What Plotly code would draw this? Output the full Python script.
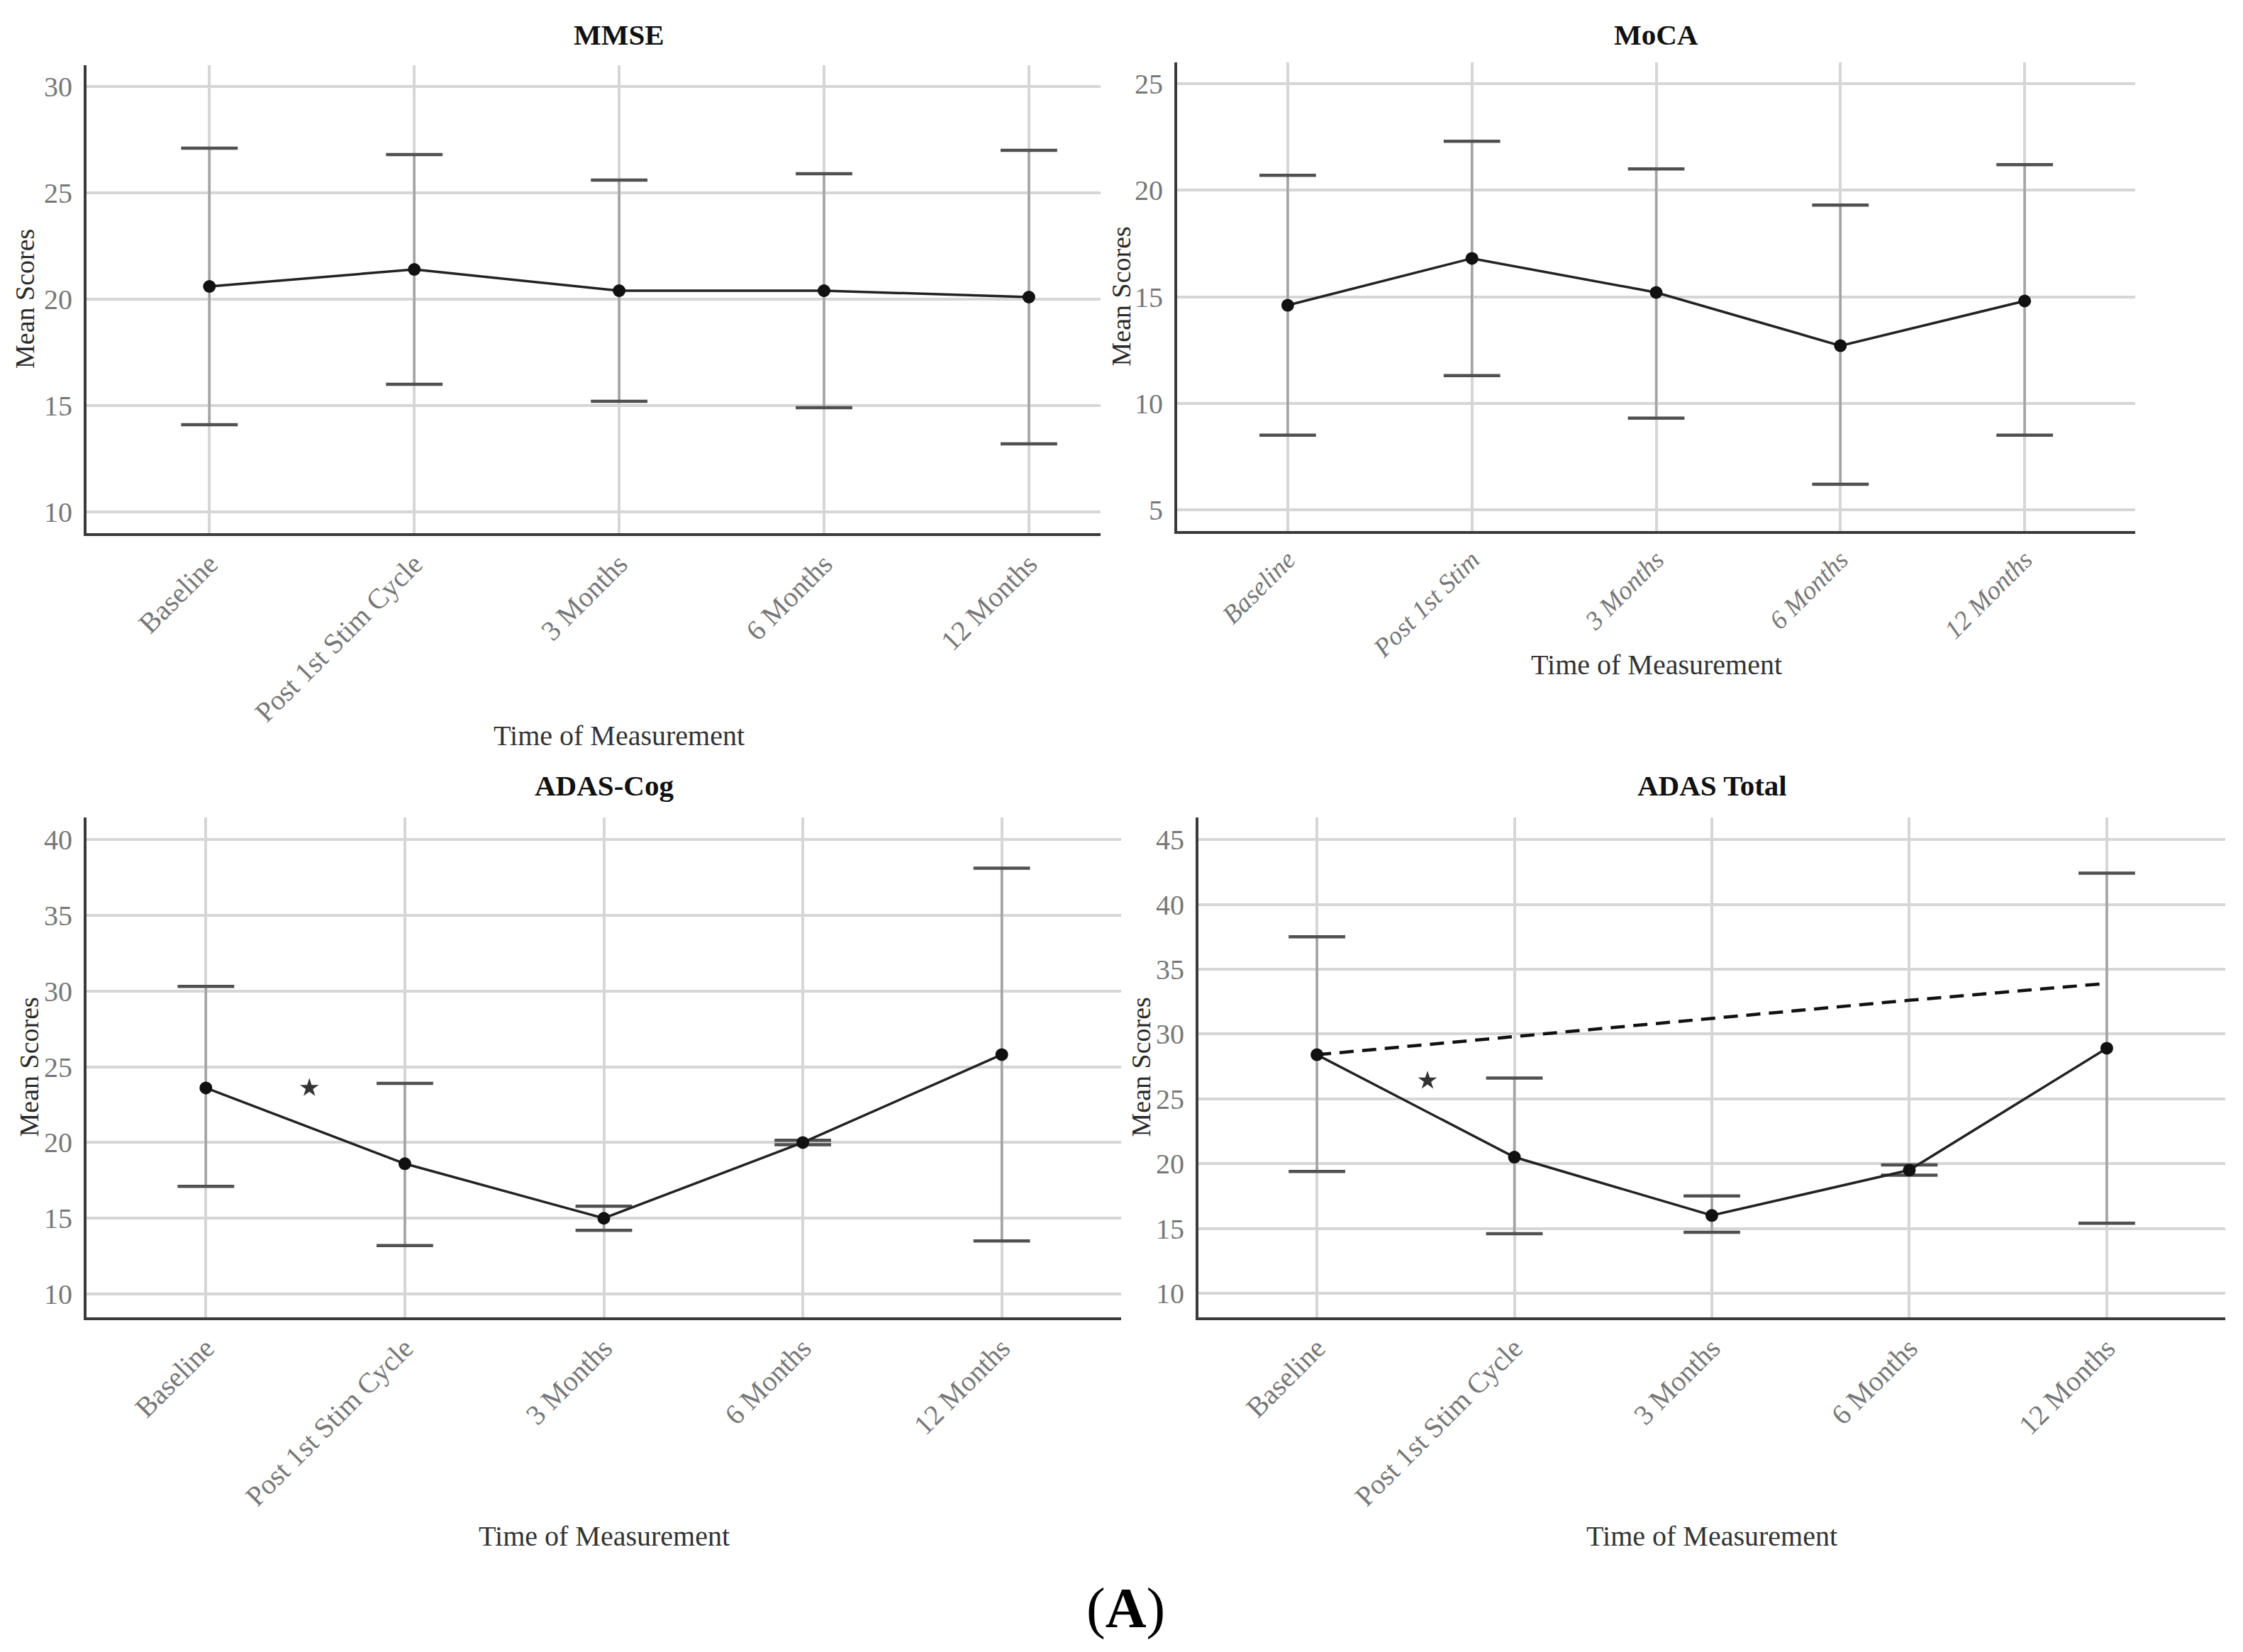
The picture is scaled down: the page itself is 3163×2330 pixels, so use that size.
import plotly.graph_objects as go

# ---------------- data ----------------
cats_long = ["Baseline", "Post 1st Stim Cycle", "3 Months", "6 Months", "12 Months"]
cats_moca = ["Baseline", "Post 1st Stim", "3 Months", "6 Months", "12 Months"]

mmse_mean = [20.6, 21.4, 20.4, 20.4, 20.1]
mmse_lower = [14.1, 16.0, 15.2, 14.9, 13.2]
mmse_upper = [27.1, 26.8, 25.6, 25.9, 27.0]

moca_mean = [14.6, 16.8, 15.2, 12.7, 14.8]
moca_lower = [8.5, 11.3, 9.3, 6.2, 8.5]
moca_upper = [20.7, 22.3, 21.0, 19.3, 21.2]

adascog_mean = [23.6, 18.6, 15.0, 20.0, 25.8]
adascog_lower = [17.1, 13.2, 14.2, 19.85, 13.5]
adascog_upper = [30.3, 23.9, 15.8, 20.15, 38.1]

adastot_mean = [28.4, 20.5, 16.0, 19.5, 28.9]
adastot_lower = [19.4, 14.6, 14.7, 19.1, 15.4]
adastot_upper = [37.5, 26.6, 17.5, 19.9, 42.4]
adastot_expected = [28.4, 29.8, 31.2, 32.6, 33.9]

# significance star positions (category index, score)
adascog_star = (0.52, 23.6)
adastot_star = (0.56, 26.4)

mmse_ticks = [10, 15, 20, 25, 30]
moca_ticks = [5, 10, 15, 20, 25]
adascog_ticks = [10, 15, 20, 25, 30, 35, 40]
adastot_ticks = [10, 15, 20, 25, 30, 35, 40, 45]

# ---------------- layout helpers ----------------
W, H = 3163, 2330
OFF = 8                      # page body margin
FW, FH = W - 2 * OFF, H - 2 * OFF
def px(x):
    return (x - OFF) / FW
def py(y):
    return 1 - (y - OFF) / FH

FONT = "Liberation Serif"
GRID = "#d6d6d6"
AXIS = "#3a3a3a"
TICKC = "#777777"

panels = [
    dict(title="MMSE", cats=cats_long, mean=mmse_mean, lo=mmse_lower, hi=mmse_upper,
         ticks=mmse_ticks, yr=[9, 31], xr=[-0.6, 4.35],
         xdom=(122, 1552), ydom=(92, 752), title_y=49, xt_y=1037, yt_x=35,
         italic=False, xfs=40),
    dict(title="MoCA", cats=cats_moca, mean=moca_mean, lo=moca_lower, hi=moca_upper,
         ticks=moca_ticks, yr=[4, 26], xr=[-0.6, 4.6],
         xdom=(1660, 3011), ydom=(88, 749), title_y=49, xt_y=937, yt_x=1580,
         italic=True, xfs=37),
    dict(title="ADAS-Cog", cats=cats_long, mean=adascog_mean, lo=adascog_lower, hi=adascog_upper,
         ticks=adascog_ticks, yr=[8.46, 41.45], xr=[-0.6, 4.6],
         xdom=(122, 1581), ydom=(1153, 1858), title_y=1108, xt_y=2166, yt_x=40,
         italic=False, xfs=40),
    dict(title="ADAS Total", cats=cats_long, mean=adastot_mean, lo=adastot_lower, hi=adastot_upper,
         ticks=adastot_ticks, yr=[8.14, 46.7], xr=[-0.6, 4.6],
         xdom=(1690, 3138), ydom=(1153, 1858), title_y=1108, xt_y=2166, yt_x=1608,
         italic=False, xfs=40),
]

fig = go.Figure()
annotations = []

for i, p in enumerate(panels, start=1):
    xa = "x" if i == 1 else f"x{i}"
    ya = "y" if i == 1 else f"y{i}"
    cats = p["cats"]
    plus = [h - m for h, m in zip(p["hi"], p["mean"])]
    minus = [m - l for m, l in zip(p["mean"], p["lo"])]

    # vertical error bar stems
    fig.add_trace(go.Scatter(
        x=cats, y=p["mean"], mode="markers", xaxis=xa, yaxis=ya,
        marker=dict(size=1, color="rgba(0,0,0,0)"),
        error_y=dict(type="data", array=plus, arrayminus=minus, symmetric=False,
                     width=0, thickness=3.5, color="#a4a4a4"),
        showlegend=False, hoverinfo="skip"))
    # caps
    fig.add_trace(go.Scatter(
        x=cats + cats, y=p["lo"] + p["hi"], mode="markers", xaxis=xa, yaxis=ya,
        marker=dict(symbol="line-ew", size=57, line=dict(width=4.5, color="#505050")),
        showlegend=False, hoverinfo="skip"))

    if i == 4:
        fig.add_trace(go.Scatter(
            x=cats, y=adastot_expected, mode="lines", xaxis=xa, yaxis=ya,
            line=dict(color="#111111", width=4.5, dash="20px,12px"),
            showlegend=False, hoverinfo="skip"))

    # mean line with dots
    fig.add_trace(go.Scatter(
        x=cats, y=p["mean"], mode="lines+markers", xaxis=xa, yaxis=ya,
        line=dict(color="#222222", width=3.5),
        marker=dict(size=18, color="#111111"),
        showlegend=False, hoverinfo="skip"))

    xkey = "xaxis" if i == 1 else f"xaxis{i}"
    ykey = "yaxis" if i == 1 else f"yaxis{i}"
    tickfont = dict(family=FONT, size=p["xfs"], color=TICKC)
    if p["italic"]:
        tickfont["style"] = "italic"
    fig.update_layout(**{
        xkey: dict(domain=[px(p["xdom"][0]), px(p["xdom"][1])], anchor=ya,
                   type="category", range=p["xr"], categoryorder="array", categoryarray=cats,
                   showgrid=True, gridcolor=GRID, gridwidth=4,
                   showline=True, linecolor=AXIS, linewidth=4,
                   ticks="", tickangle=-45, tickfont=tickfont, ticklabelstandoff=0,
                   zeroline=False, fixedrange=True),
        ykey: dict(domain=[py(p["ydom"][1]), py(p["ydom"][0])], anchor=xa,
                   range=p["yr"], tickmode="array", tickvals=p["ticks"],
                   ticktext=[str(t) for t in p["ticks"]],
                   showgrid=True, gridcolor=GRID, gridwidth=4,
                   showline=True, linecolor=AXIS, linewidth=4,
                   ticks="", tickfont=dict(family=FONT, size=40, color=TICKC),
                   ticklabelstandoff=8, zeroline=False, fixedrange=True),
    })

    # panel title
    annotations.append(dict(text=f"<b>{p['title']}</b>", xref=xa, x=2, yref="paper",
                            y=py(p["title_y"]), xanchor="center", yanchor="middle",
                            showarrow=False, font=dict(family=FONT, size=41, color="#111111")))
    # x-axis title
    annotations.append(dict(text="Time of Measurement", xref=xa, x=2, yref="paper",
                            y=py(p["xt_y"]), xanchor="center", yanchor="middle",
                            showarrow=False, font=dict(family=FONT, size=40, color="#333333")))
    # y-axis title
    yc = (p["ydom"][0] + p["ydom"][1]) / 2
    annotations.append(dict(text="Mean Scores", xref="paper", x=px(p["yt_x"]), yref="paper",
                            y=py(yc), xanchor="center", yanchor="middle", textangle=-90,
                            showarrow=False, font=dict(family=FONT, size=38, color="#2a2a2a")))

# significance stars on hidden linear x axes overlaying the categorical ones
for k, ((sx, sy), base_i) in enumerate([(adascog_star, 3), (adastot_star, 4)], start=5):
    p = panels[base_i - 1]
    fig.update_layout(**{f"xaxis{k}": dict(overlaying=f"x{base_i}", anchor=f"y{base_i}",
                                           range=p["xr"], visible=False, fixedrange=True)})
    fig.add_trace(go.Scatter(x=[sx], y=[sy], mode="markers", xaxis=f"x{k}", yaxis=f"y{base_i}",
                             marker=dict(symbol="star", size=20, color="#333333"),
                             showlegend=False, hoverinfo="skip"))

annotations.append(dict(text="(<b>A</b>)", xref="paper", yref="paper", x=px(1588), y=py(2268),
                        xanchor="center", yanchor="middle", showarrow=False,
                        font=dict(family=FONT, size=80, color="#000000")))

fig.update_layout(width=FW, height=FH, margin=dict(l=0, r=0, t=0, b=0),
                  paper_bgcolor="white", plot_bgcolor="white",
                  annotations=annotations, showlegend=False)

fig.write_html("out.html")
